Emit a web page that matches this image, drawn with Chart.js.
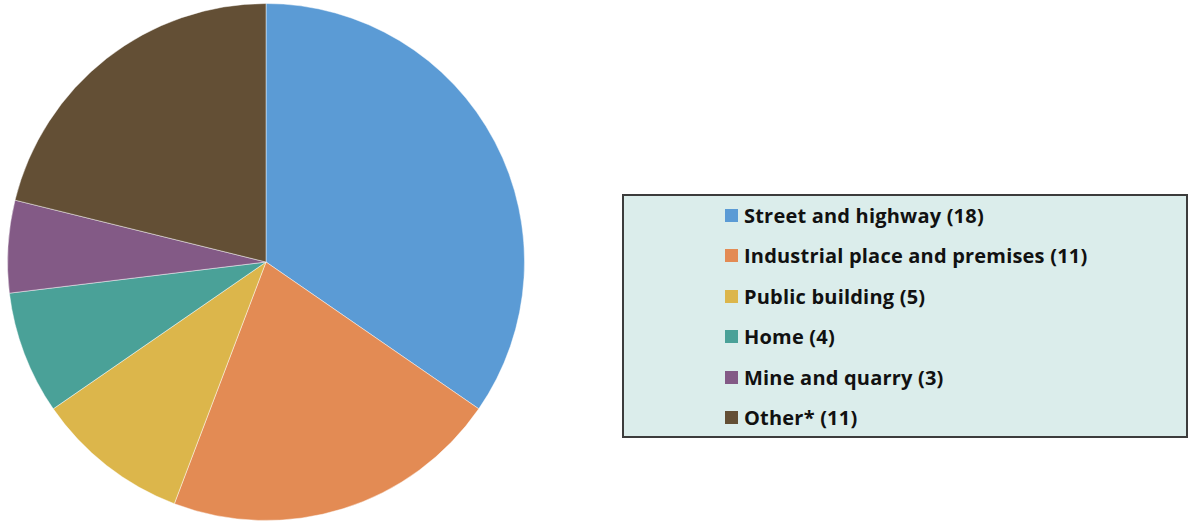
<!DOCTYPE html>
<html>
<head>
<meta charset="utf-8">
<script src="https://cdn.jsdelivr.net/npm/chart.js@4.4.0/dist/chart.umd.min.js"></script>
<style>
    html, body { margin: 0; padding: 0; background: #fff; }
    body { width: 1188px; height: 522px; position: relative; overflow: hidden; font-family: "Open Sans", sans-serif; }
    #pieWrap { position: absolute; left: 0; top: 0; width: 532px; height: 524px; }
    #legend {
        position: absolute; left: 622px; top: 194px; width: 562px; height: 240px;
        background: #dbedeb; border: 2px solid #3c3c3c;
    }
    #legend ul { list-style: none; margin: 0; padding: 0; position: absolute; left: 101px; top: -1px; }
    #legend li { height: 40.5px; display: flex; align-items: center; font-weight: 700; font-size: 20px; letter-spacing: 0.2px; color: #111; }
    #legend .sw { width: 13px; height: 13px; margin-right: 6px; display: inline-block; }
</style>
</head>
<body>
<div id="pieWrap"><canvas id="pieChart"></canvas></div>
<div id="legend"><ul id="legendList"></ul></div>
<script>
// Chart data
const categories = ['Street and highway', 'Industrial place and premises', 'Public building', 'Home', 'Mine and quarry', 'Other*'];
const counts = [18, 11, 5, 4, 3, 11];
const sliceColors = ['#5b9bd5', '#e38b54', '#dcb64b', '#4aa198', '#835a86', '#634f35'];

// Build legend from the chart's own labels
function buildLegend(chart) {
    const list = document.getElementById('legendList');
    list.innerHTML = '';
    const items = chart.options.plugins.legend.labels.generateLabels(chart);
    items.forEach((item, i) => {
        const li = document.createElement('li');
        const sw = document.createElement('span');
        sw.className = 'sw';
        sw.style.background = item.fillStyle;
        li.appendChild(sw);
        li.appendChild(document.createTextNode(`${item.text} (${counts[i]})`));
        list.appendChild(li);
    });
}

document.addEventListener('DOMContentLoaded', () => {
    const ctx = document.getElementById('pieChart').getContext('2d');
    const chart = new Chart(ctx, {
        type: 'pie',
        data: {
            labels: categories,
            datasets: [{
                data: counts,
                backgroundColor: sliceColors,
                borderColor: 'rgba(255,255,255,0.45)',
                borderWidth: 1
            }]
        },
        options: {
            responsive: true,
            maintainAspectRatio: false,
            animation: false,
            layout: { padding: 3 },
            plugins: {
                legend: { display: false },
                tooltip: { enabled: false }
            }
        }
    });
    buildLegend(chart);
});
</script>
</body>
</html>
